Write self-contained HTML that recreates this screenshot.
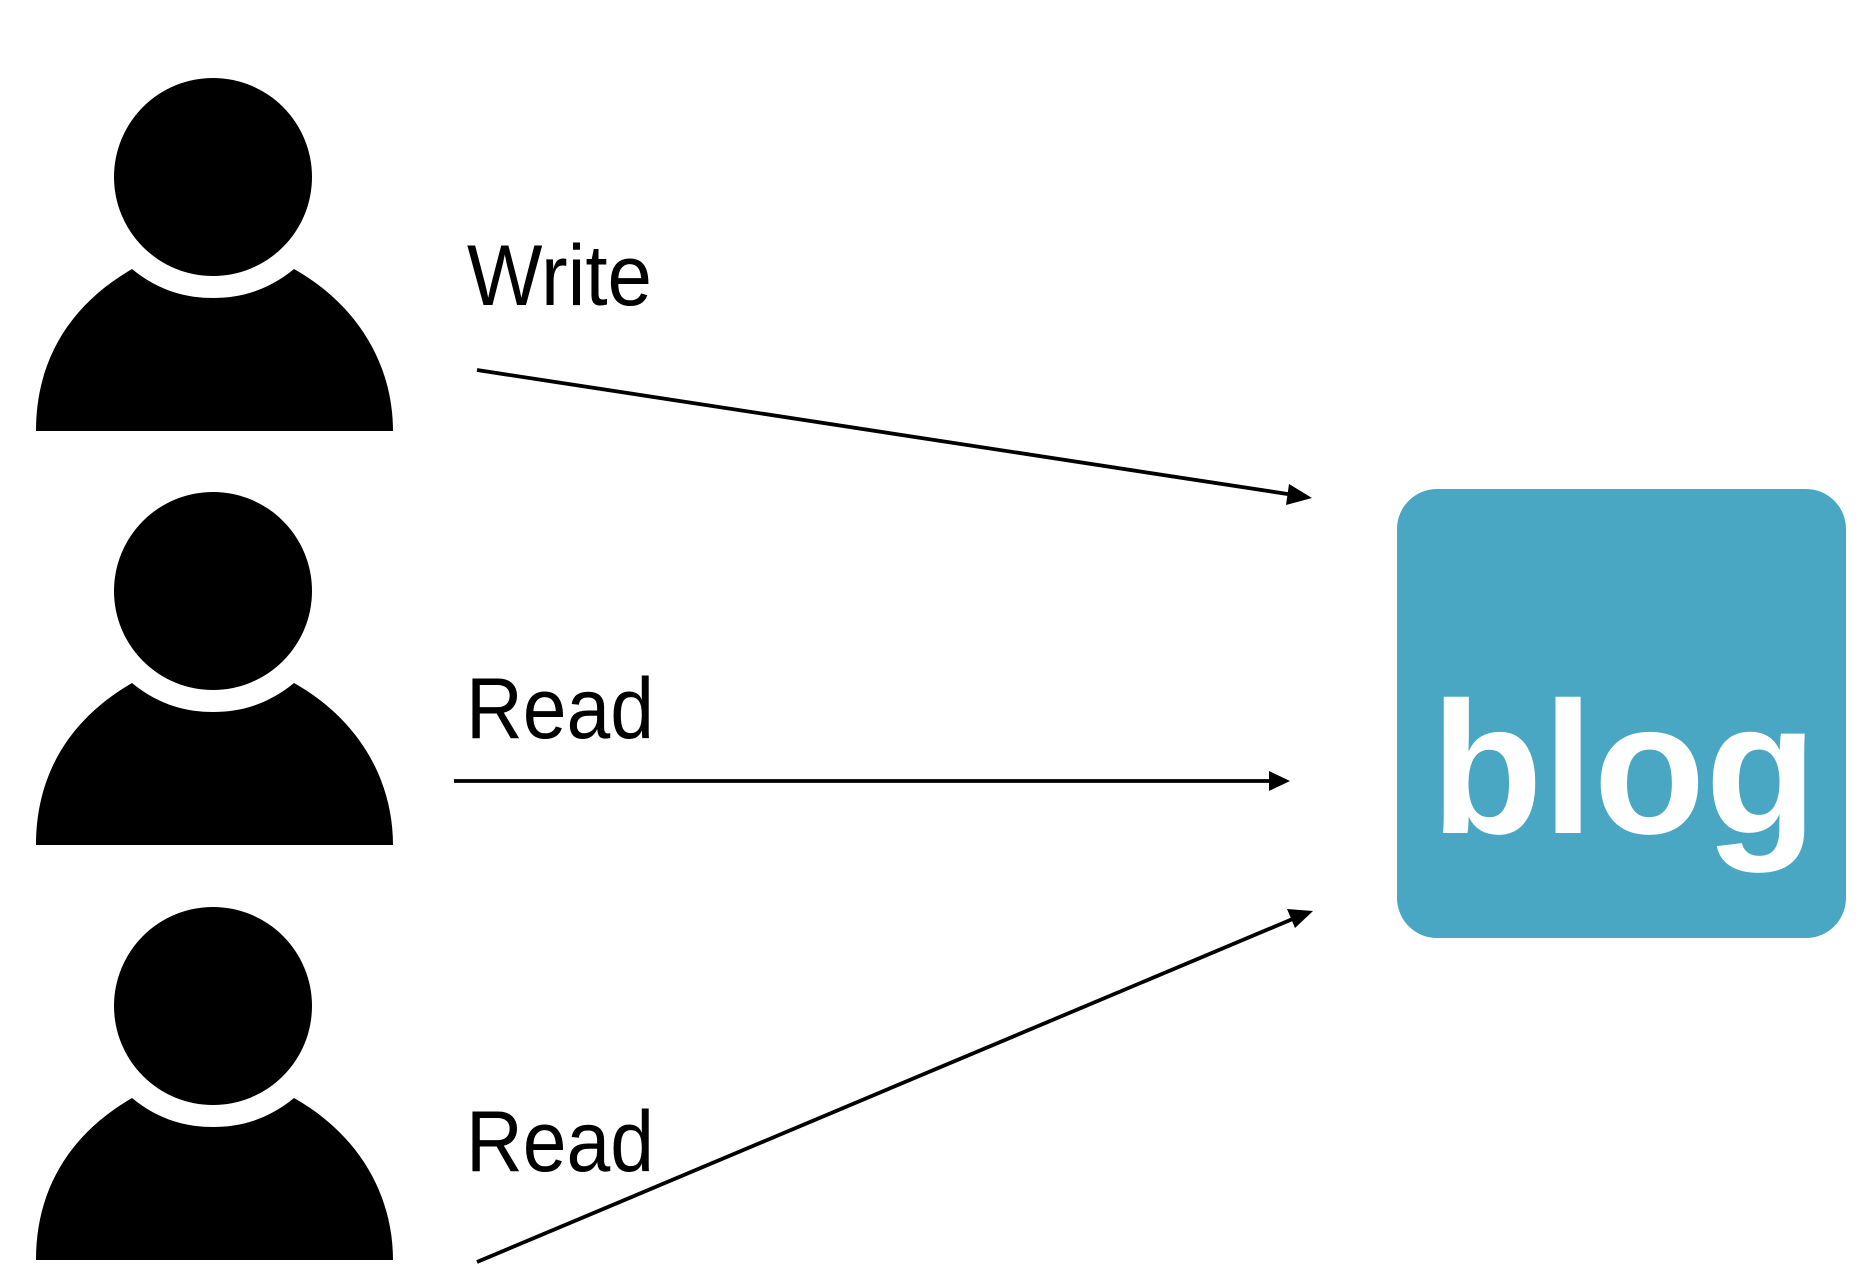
<!DOCTYPE html>
<html><head><meta charset="utf-8"><style>
html,body{margin:0;padding:0;background:#fff;}
svg{display:block;}
</style></head><body>
<svg width="1876" height="1282" viewBox="0 0 1876 1282" xmlns="http://www.w3.org/2000/svg">
<defs>
<g id="person">
<ellipse cx="213" cy="177" rx="99" ry="99" fill="#000"/>
<path d="M36,431 C36,360 70,305 132,269 C160,292 188,298 213,298 C238,298 266,292 294,269 C358,305 393,365 393,431 Z" fill="#000"/>
</g>
<clipPath id="c3"><rect x="0" y="907" width="600" height="400"/></clipPath>
</defs>
<use href="#person"/>
<use href="#person" transform="translate(0,414)"/>
<g clip-path="url(#c3)"><use href="#person" transform="translate(0,829)"/></g>

<g font-family="Liberation Sans, sans-serif" font-size="86" fill="#000">
<text x="467" y="305" textLength="185" lengthAdjust="spacingAndGlyphs">Write</text>
<text x="466" y="738" textLength="188" lengthAdjust="spacingAndGlyphs">Read</text>
<text x="466" y="1171" textLength="188" lengthAdjust="spacingAndGlyphs">Read</text>
</g>

<g stroke="#000" stroke-width="3.8" fill="none">
<line x1="477" y1="370" x2="1294" y2="495"/>
<line x1="454" y1="781" x2="1272" y2="781"/>
<line x1="477" y1="1262" x2="1295" y2="918"/>
</g>
<g fill="#000">
<polygon points="1312,498 1289,484 1286,505"/>
<polygon points="1290,781 1269,771 1269,791"/>
<polygon points="1313,911 1287,909 1295,928"/>
</g>

<rect x="1397" y="489" width="449" height="449" rx="40" fill="#4aa7c3"/>
<text x="1431" y="833" font-family="Liberation Sans, sans-serif" font-weight="bold" font-size="188" fill="#fff" textLength="386" lengthAdjust="spacingAndGlyphs">blog</text>
</svg>
</body></html>
